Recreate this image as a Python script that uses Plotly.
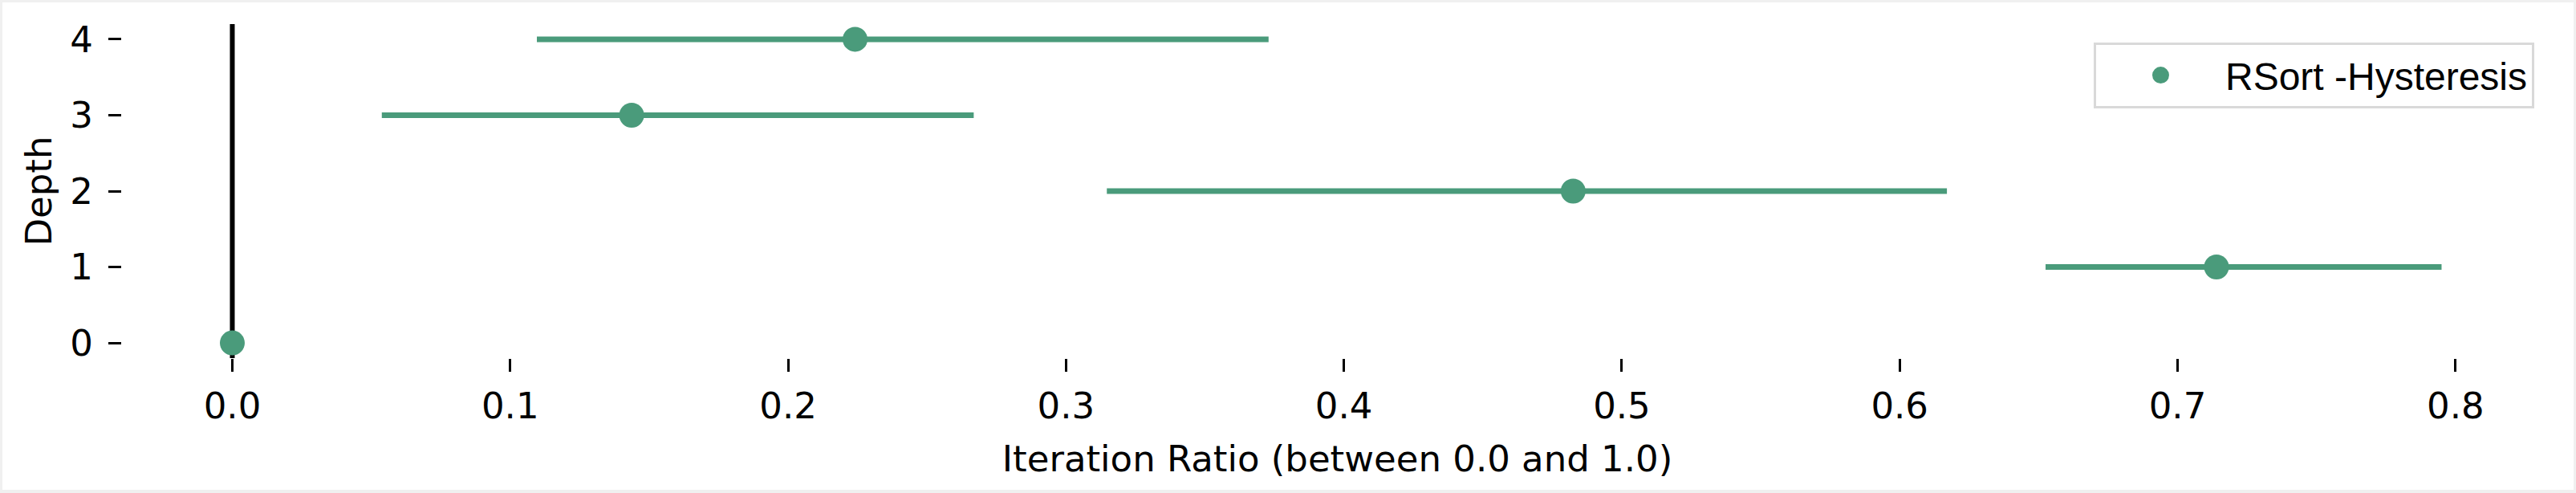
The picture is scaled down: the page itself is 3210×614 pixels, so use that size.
import plotly.graph_objects as go

depth = [0, 1, 2, 3, 4]
ratio_mid = [0.0, 0.714, 0.4825, 0.1437, 0.2241]
ratio_low = [0.0, 0.6525, 0.3147, 0.0538, 0.1096]
ratio_high = [0.0, 0.795, 0.617, 0.2668, 0.3729]
series_name = "RSort -Hysteresis"
x_ticks = [0.0, 0.1, 0.2, 0.3, 0.4, 0.5, 0.6, 0.7, 0.8]
y_ticks = [0, 1, 2, 3, 4]

green = "#4a9b7b"

err_plus = [h - m for h, m in zip(ratio_high, ratio_mid)]
err_minus = [m - l for m, l in zip(ratio_mid, ratio_low)]

fig = go.Figure()

# white canvas inside light grey frame
fig.add_shape(type="rect", xref="paper", yref="paper",
              x0=-0.0492, x1=1.0086, y0=-0.394, y1=1.065,
              fillcolor="white", line=dict(width=0), layer="below")
# reference line at x = 0
fig.add_shape(type="line", xref="x", yref="paper", x0=0, x1=0, y0=0, y1=1,
              line=dict(color="black", width=6), layer="below")

fig.add_trace(go.Scatter(
    x=ratio_mid, y=depth, mode="markers", name=series_name,
    marker=dict(color=green, size=31, line=dict(width=0)),
    error_x=dict(type="data", array=err_plus, arrayminus=err_minus,
                 symmetric=False, color=green, thickness=7, width=0),
    showlegend=False,
))
# legend entry (larger symbol)
fig.add_trace(go.Scatter(
    x=[None], y=[None], mode="markers", name=series_name,
    marker=dict(color=green, size=31, line=dict(width=5, color=green)),
    showlegend=True, hoverinfo="skip",
))

fig.update_layout(
    width=3210, height=614,
    margin=dict(l=152, r=29, t=30, b=168, autoexpand=False),
    paper_bgcolor="#f0f0f0",
    plot_bgcolor="white",
    font=dict(family="DejaVu Sans", size=45, color="black"),
    legend=dict(
        x=0.9924, y=0.945, xanchor="right", yanchor="top",
        bgcolor="white", bordercolor="#d9d9d9", borderwidth=3,
        font=dict(family="Liberation Sans", size=48),
        itemwidth=151,
    ),
    xaxis=dict(
        range=[-0.0397, 0.835], tickvals=x_ticks, tickformat=".1f",
        showgrid=False, zeroline=False, showline=False,
        ticks="outside", ticklen=16, tickwidth=3, tickcolor="black",
        ticklabelstandoff=4,
        title=dict(text="Iteration Ratio (between 0.0 and 1.0)", standoff=24,
                   font=dict(size=45)),
    ),
    yaxis=dict(
        range=[-0.2, 4.2], tickvals=y_ticks,
        showgrid=False, zeroline=False, showline=False,
        ticks="outside", ticklen=16, tickwidth=3, tickcolor="black",
        ticklabelstandoff=10,
        title=dict(text="Depth", standoff=8, font=dict(size=45)),
    ),
)

fig.write_html("out.html", config={"displayModeBar": False},
               post_script="document.body.style.margin='0';")
